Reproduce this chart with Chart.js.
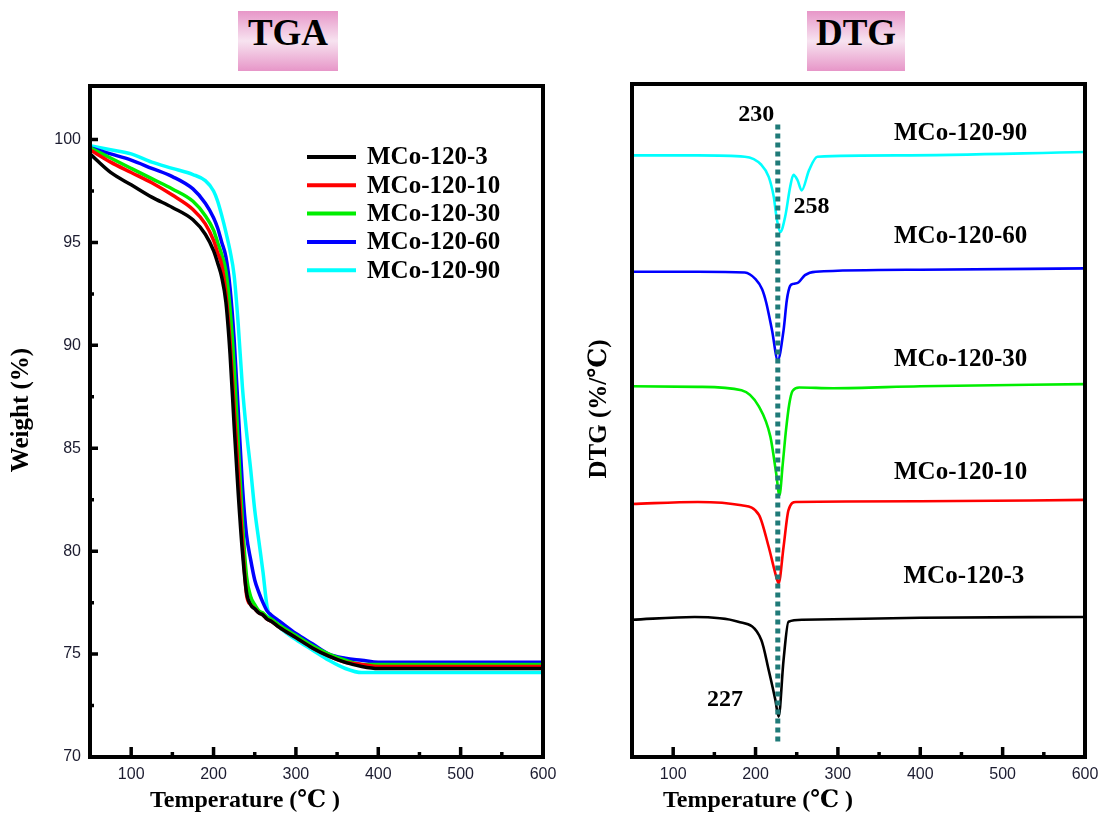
<!DOCTYPE html>
<html>
<head>
<meta charset="utf-8">
<script src="https://cdn.jsdelivr.net/npm/chart.js@4.4.0/dist/chart.umd.min.js"></script>
<style>
  html, body { margin: 0; padding: 0; background: #fff; }
  #wrap { position: relative; width: 1102px; height: 815px; overflow: hidden; }
  .panel { position: absolute; top: 0; }
  .tag {
    position: absolute; top: 11px; height: 60px; line-height: 62px;
    background: linear-gradient(#e796c8, #f7e3f0 50%, #e796c8);
    font: bold 37px 'Liberation Serif', 'Times New Roman', serif;
    color: #000; text-align: center;
  }
</style>
</head>
<body>
<div id="wrap">
  <div class="panel" style="left:0"><canvas id="tgaChart" width="560" height="815"></canvas></div>
  <div class="panel" style="left:560px"><canvas id="dtgChart" width="542" height="815"></canvas></div>
  <div class="tag" style="left:238px; width:100px">TGA</div>
  <div class="tag" style="left:807px; width:98px">DTG</div>
</div>
<script>
// ---- data ----
const seriesNames = ['MCo-120-3', 'MCo-120-10', 'MCo-120-30', 'MCo-120-60', 'MCo-120-90'];
const seriesColors = ['#000000', '#ff0000', '#00ee00', '#0000ff', '#00ffff'];

const tempTicks = [100, 200, 300, 400, 500, 600];
const tempMinor = [150, 250, 350, 450, 550];
const weightTicks = [70, 75, 80, 85, 90, 95, 100];
const weightMinor = [72.5, 77.5, 82.5, 87.5, 92.5, 97.5];

// TGA: weight (%) vs temperature
const tgaTemps = [50, 75, 100, 125, 150, 175, 190, 200, 205, 210, 215, 220, 225, 230, 235, 240, 245, 250, 255, 260, 265, 270, 280, 300, 320, 340, 360, 380, 400, 450, 500, 550, 600];
const tga3  = [99.3, 98.4, 97.8, 97.2, 96.7, 96.1, 95.4, 94.6, 94.0, 93.3, 92.1, 89.6, 86.1, 82.8, 80.0, 78.0, 77.4, 77.2, 77.0, 76.9, 76.7, 76.6, 76.3, 75.8, 75.3, 74.9, 74.6, 74.4, 74.3, 74.3, 74.3, 74.3, 74.3];
const tga10 = [99.5, 98.9, 98.4, 97.9, 97.3, 96.6, 95.9, 95.1, 94.5, 93.9, 92.5, 90.2, 87.0, 83.8, 80.5, 77.9, 77.4, 77.2, 77.0, 76.9, 76.7, 76.6, 76.3, 75.8, 75.3, 74.9, 74.6, 74.5, 74.4, 74.4, 74.4, 74.4, 74.4];
const tga30 = [99.6, 99.1, 98.6, 98.1, 97.6, 97.0, 96.3, 95.6, 95.0, 94.4, 93.6, 91.8, 89.0, 85.2, 81.5, 78.8, 77.8, 77.4, 77.1, 77.0, 76.8, 76.7, 76.4, 75.9, 75.4, 75.0, 74.7, 74.5, 74.5, 74.5, 74.5, 74.5, 74.5];
const tga60 = [99.6, 99.3, 99.0, 98.6, 98.2, 97.6, 96.9, 96.2, 95.7, 95.0, 94.3, 92.8, 90.3, 86.8, 83.2, 80.8, 79.6, 78.6, 78.0, 77.5, 77.1, 76.9, 76.6, 76.0, 75.5, 75.0, 74.8, 74.7, 74.6, 74.6, 74.6, 74.6, 74.6];
const tga90 = [99.7, 99.5, 99.3, 98.9, 98.6, 98.3, 98.0, 97.5, 97.0, 96.3, 95.5, 94.6, 93.4, 91.0, 88.0, 85.8, 84.0, 82.0, 80.5, 79.0, 77.3, 76.7, 76.3, 75.7, 75.2, 74.7, 74.3, 74.1, 74.1, 74.1, 74.1, 74.1, 74.1];

// DTG: stacked curves, arbitrary units (0-100 over the plot height)
const dtgTemp3  = [50, 126, 179, 207, 216, 224, 228, 234, 240, 257, 400, 600];
const dtgVal3   = [20.4, 20.8, 20.1, 17.4, 12.9, 8.5, 6.0, 14.4, 20.1, 20.4, 20.7, 20.8];
const dtgTemp10 = [50, 130, 183, 204, 216, 224, 228, 234, 240, 249, 400, 600];
const dtgVal10  = [37.6, 37.9, 37.4, 36.0, 31.2, 27.3, 25.8, 31.2, 36.7, 37.9, 38.0, 38.2];
const dtgTemp30 = [50, 130, 183, 204, 218, 225, 229, 233, 237, 241, 245, 253, 294, 400, 600];
const dtgVal30  = [55.1, 55.0, 54.5, 52.1, 47.6, 42.2, 38.9, 43.5, 48.6, 52.5, 54.4, 54.9, 54.8, 55.1, 55.4];
const dtgTemp60 = [50, 130, 187, 200, 208, 213, 220, 227, 234, 238, 242, 246, 252, 260, 273, 400, 600];
const dtgVal60  = [72.1, 72.1, 72.0, 71.0, 69.5, 67.5, 63.4, 59.0, 63.4, 67.9, 70.0, 70.3, 70.5, 71.6, 72.1, 72.4, 72.6];
const dtgTemp90 = [50, 130, 187, 207, 216, 222, 226, 230, 236, 242, 246, 251, 256, 265, 275, 375, 600];
const dtgVal90  = [89.4, 89.4, 89.2, 88.0, 86.2, 83.3, 79.8, 78.0, 80.3, 84.7, 86.5, 85.7, 84.2, 87.2, 89.2, 89.4, 89.9];
const peakLineT = [227, 227];
const peakLineV = [94, 2];

const serif = "'Liberation Serif', 'Times New Roman', 'DejaVu Serif', serif";
const sans = "'Liberation Sans', Arial, sans-serif";

const pts = (xs, ys) => xs.map((x, i) => ({ x: x, y: ys[i] }));

// frame, inward ticks, free texts and the TGA legend
const decor = {
    id: 'decor',
    afterDraw(chart, args, o) {
        const ctx = chart.ctx;
        const a = chart.chartArea;
        const xs = chart.scales.x, ys = chart.scales.y;
        ctx.save();
        ctx.strokeStyle = '#000';
        ctx.lineWidth = 3.5;
        ctx.beginPath();
        const seg = (x1, y1, x2, y2) => { ctx.moveTo(x1, y1); ctx.lineTo(x2, y2); };
        (o.xMajor || []).forEach(v => { const x = xs.getPixelForValue(v); seg(x, a.bottom, x, a.bottom - 10); });
        (o.xMinor || []).forEach(v => { const x = xs.getPixelForValue(v); seg(x, a.bottom, x, a.bottom - 5); });
        (o.yMajor || []).forEach(v => { const y = ys.getPixelForValue(v); seg(a.left, y, a.left + 8, y); });
        (o.yMinor || []).forEach(v => { const y = ys.getPixelForValue(v); seg(a.left, y, a.left + 4, y); });
        ctx.stroke();
        ctx.lineWidth = 4;
        ctx.strokeRect(a.left, a.top, a.right - a.left, a.bottom - a.top);

        ctx.fillStyle = '#000';
        ctx.textAlign = 'center';
        ctx.textBaseline = 'middle';
        (o.texts || []).forEach(t => {
            let x = t.x, y = t.y;
            if (t.data) { x = xs.getPixelForValue(t.x); y = ys.getPixelForValue(t.y); }
            ctx.font = t.font;
            ctx.save();
            ctx.translate(x, y);
            if (t.rot) ctx.rotate(t.rot);
            ctx.fillText(t.text, 0, 0);
            ctx.restore();
        });

        if (o.legend) {
            const L = o.legend;
            ctx.font = L.font;
            ctx.textAlign = 'left';
            chart.data.datasets.forEach((ds, i) => {
                const y = L.y + i * L.step;
                ctx.strokeStyle = ds.borderColor;
                ctx.lineWidth = 4;
                ctx.beginPath();
                ctx.moveTo(L.x1, y); ctx.lineTo(L.x2, y);
                ctx.stroke();
                ctx.fillText(ds.label, L.tx, y + 1);
            });
        }
        ctx.restore();
    }
};

const xAxis = {
    type: 'linear', min: 50, max: 600,
    afterBuildTicks: s => { s.ticks = tempTicks.map(v => ({ value: v })); },
    afterFit: s => { s.height = 58; s.paddingLeft = 0; s.paddingRight = 0; },
    grid: { display: false, drawTicks: false },
    border: { display: false },
    ticks: { color: '#1c1c30', font: { family: sans, size: 16 }, padding: 8 }
};

// ---- TGA ----
new Chart(document.getElementById('tgaChart'), {
    type: 'line',
    data: {
        datasets: [tga3, tga10, tga30, tga60, tga90].map((w, i) => ({
            label: seriesNames[i],
            data: pts(tgaTemps, w),
            borderColor: seriesColors[i],
            borderWidth: 3.5,
            pointRadius: 0,
            cubicInterpolationMode: 'monotone',
            fill: false
        }))
    },
    options: {
        responsive: false,
        animation: false,
        layout: { padding: { top: 86, right: 17, left: 0, bottom: 0 } },
        plugins: {
            legend: { display: false },
            tooltip: { enabled: false },
            decor: {
                xMajor: tempTicks, xMinor: tempMinor,
                yMajor: weightTicks, yMinor: weightMinor,
                legend: { x1: 307, x2: 356, tx: 367, y: 157, step: 28.3, font: 'bold 25px ' + serif },
                texts: [
                    { text: 'Temperature (℃ )', x: 245, y: 801, font: 'bold 24px ' + serif },
                    { text: 'Weight (%)', x: 22, y: 410, rot: -Math.PI / 2, font: 'bold 25px ' + serif }
                ]
            }
        },
        scales: {
            x: xAxis,
            y: {
                type: 'linear', min: 70, max: 102.6,
                afterBuildTicks: s => { s.ticks = weightTicks.map(v => ({ value: v })); },
                afterFit: s => { s.width = 90; },
                grid: { display: false, drawTicks: false },
                border: { display: false },
                ticks: { color: '#1c1c30', font: { family: sans, size: 16 }, padding: 9 }
            }
        }
    },
    plugins: [decor]
});

// ---- DTG ----
const dtgSets = [
    [dtgTemp3, dtgVal3], [dtgTemp10, dtgVal10], [dtgTemp30, dtgVal30],
    [dtgTemp60, dtgVal60], [dtgTemp90, dtgVal90]
];

new Chart(document.getElementById('dtgChart'), {
    type: 'line',
    data: {
        datasets: [{
            label: 'peak',
            data: pts(peakLineT, peakLineV),
            borderColor: '#1f7a78',
            borderWidth: 5,
            borderDash: [5, 4],
            pointRadius: 0
        }].concat(dtgSets.map((s, i) => ({
            label: seriesNames[i],
            data: pts(s[0], s[1]),
            borderColor: seriesColors[i],
            borderWidth: 2.6,
            pointRadius: 0,
            cubicInterpolationMode: 'monotone',
            fill: false
        })))
    },
    options: {
        responsive: false,
        animation: false,
        layout: { padding: { top: 84, right: 17, left: 0, bottom: 0 } },
        plugins: {
            legend: { display: false },
            tooltip: { enabled: false },
            decor: {
                xMajor: tempTicks, xMinor: tempMinor,
                texts: [
                    { text: 'Temperature (℃ )', x: 198, y: 801, font: 'bold 24px ' + serif },
                    { text: 'DTG (%/℃)', x: 40, y: 409, rot: -Math.PI / 2, font: 'bold 25px ' + serif },
                    { text: '230', x: 201, y: 95.4, data: true, font: 'bold 24px ' + serif },
                    { text: '258', x: 268, y: 81.8, data: true, font: 'bold 24px ' + serif },
                    { text: '227', x: 163, y: 8.5, data: true, font: 'bold 24px ' + serif },
                    { text: 'MCo-120-90', x: 449, y: 92.7, data: true, font: 'bold 25px ' + serif },
                    { text: 'MCo-120-60', x: 449, y: 77.3, data: true, font: 'bold 25px ' + serif },
                    { text: 'MCo-120-30', x: 449, y: 59.0, data: true, font: 'bold 25px ' + serif },
                    { text: 'MCo-120-10', x: 449, y: 42.2, data: true, font: 'bold 25px ' + serif },
                    { text: 'MCo-120-3', x: 453, y: 26.8, data: true, font: 'bold 25px ' + serif }
                ]
            }
        },
        scales: {
            x: xAxis,
            y: {
                type: 'linear', min: 0, max: 100,
                afterFit: s => { s.width = 72; },
                grid: { display: false, drawTicks: false },
                border: { display: false },
                ticks: { display: false }
            }
        }
    },
    plugins: [decor]
});
</script>
</body>
</html>
